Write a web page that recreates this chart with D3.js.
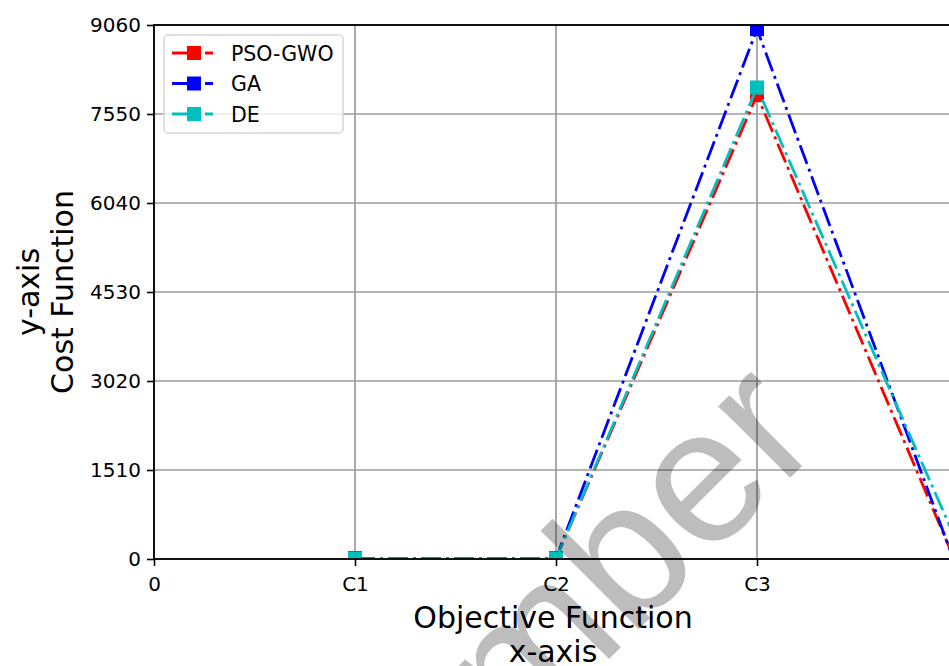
<!DOCTYPE html>
<html>
<head>
<meta charset="utf-8">
<script src="https://cdn.jsdelivr.net/npm/d3@7"></script>
<style>
  html, body { margin: 0; padding: 0; background: #fff; }
  svg { display: block; }
  text { font-family: "DejaVu Sans", sans-serif; }
</style>
</head>
<body>
<svg id="chart" width="949" height="666"></svg>
<script>
// ---- data ----
const xTickLabels = ["0", "C1", "C2", "C3"];
const categories = ["C1", "C2", "C3", "C4"];
const psoGwo = [10, 10, 7870, -150];
const ga = [12, 12, 8990, -210];
const de = [8, 8, 8000, 240];
const yTicks = [0, 1510, 3020, 4530, 6040, 7550, 9060];
const seriesNames = ["PSO-GWO", "GA", "DE"];
const seriesColors = ["#ff0000", "#0000ff", "#00bfbf"];
const seriesValues = [psoGwo, ga, de];

// ---- layout ----
const svg = d3.select("#chart");
const plot = { left: 154, top: 25, right: 958, bottom: 559 };

const x = d3.scaleLinear().domain([0, categories.length]).range([plot.left, plot.right]);
const y = d3.scaleLinear().domain([0, 9060]).range([plot.bottom, plot.top]);

svg.append("defs").append("clipPath").attr("id", "plotclip")
  .append("rect").attr("x", plot.left).attr("y", plot.top)
  .attr("width", plot.right - plot.left).attr("height", plot.bottom - plot.top);

// grid
const grid = svg.append("g");
grid.selectAll("line.gx").data(d3.range(categories.length + 1)).join("line")
  .attr("x1", d => x(d)).attr("x2", d => x(d))
  .attr("y1", plot.top).attr("y2", plot.bottom)
  .attr("stroke", "#9c9c9c").attr("stroke-width", 1.7);
grid.selectAll("line.gy").data(yTicks).join("line")
  .attr("x1", plot.left).attr("x2", plot.right)
  .attr("y1", d => y(d)).attr("y2", d => y(d))
  .attr("stroke", "#9c9c9c").attr("stroke-width", 1.7);

// series
const lineGen = d3.line().x((d, i) => x(i + 1)).y(d => y(d));
const marks = svg.append("g").attr("clip-path", "url(#plotclip)");
seriesValues.forEach((vals, si) => {
  marks.append("path").datum(vals)
    .attr("d", lineGen)
    .attr("fill", "none")
    .attr("stroke", seriesColors[si])
    .attr("stroke-width", 2.8)
    .attr("stroke-dasharray", "20,5,3,5")
    .attr("stroke-linejoin", "miter");
  marks.selectAll(null).data(vals).join("rect")
    .attr("x", (d, i) => x(i + 1) - 7)
    .attr("y", d => y(d) - 7)
    .attr("width", 14).attr("height", 14)
    .attr("fill", seriesColors[si]);
});

// axes
const xAxis = d3.axisBottom(x).tickValues(d3.range(xTickLabels.length))
  .tickFormat(i => xTickLabels[i]).tickSize(7).tickPadding(11);
const yAxis = d3.axisLeft(y).tickValues(yTicks).tickFormat(d3.format("d"))
  .tickSize(7).tickPadding(6);

const gx = svg.append("g").attr("transform", `translate(0,${plot.bottom})`).call(xAxis);
const gy = svg.append("g").attr("transform", `translate(${plot.left},0)`).call(yAxis);
[gx, gy].forEach(g => {
  g.select(".domain").remove();
  g.selectAll(".tick line").attr("stroke", "#000").attr("stroke-width", 1.6);
  g.selectAll(".tick text").attr("fill", "#000").style("font-size", "20px")
    .style("font-family", "DejaVu Sans");
});

// spines
svg.append("rect").attr("x", plot.left).attr("y", plot.top)
  .attr("width", plot.right - plot.left).attr("height", plot.bottom - plot.top)
  .attr("fill", "none").attr("stroke", "#000").attr("stroke-width", 1.8);

// axis labels
const cx = (plot.left + plot.right) / 2 - 3;
svg.append("text").attr("x", cx).attr("y", 628)
  .attr("text-anchor", "middle").style("font-size", "30px").text("Objective Function");
svg.append("text").attr("x", cx).attr("y", 662)
  .attr("text-anchor", "middle").style("font-size", "30px").text("x-axis");
const cy = (plot.top + plot.bottom) / 2;
svg.append("text").attr("transform", `translate(39,${cy}) rotate(-90)`)
  .attr("text-anchor", "middle").style("font-size", "30px").text("y-axis");
svg.append("text").attr("transform", `translate(73,${cy}) rotate(-90)`)
  .attr("text-anchor", "middle").style("font-size", "30px").text("Cost Function");

// legend
const lg = svg.append("g");
lg.append("rect").attr("x", 164).attr("y", 35).attr("width", 179).attr("height", 98)
  .attr("rx", 4).attr("fill", "#fff").attr("fill-opacity", 0.8)
  .attr("stroke", "#d6d6d6").attr("stroke-width", 1.5);
seriesNames.forEach((name, i) => {
  const yy = 53 + i * 30.5;
  lg.append("line").attr("x1", 172).attr("x2", 213).attr("y1", yy).attr("y2", yy)
    .attr("stroke", seriesColors[i]).attr("stroke-width", 2.8)
    .attr("stroke-dasharray", "20,5,3,5");
  lg.append("rect").attr("x", 194 - 7).attr("y", yy - 7).attr("width", 14).attr("height", 14)
    .attr("fill", seriesColors[i]);
  lg.append("text").attr("x", 231).attr("y", yy + 7.5).style("font-size", "20.5px").text(name);
});

// watermark
svg.append("text")
  .attr("transform", "translate(826,442) rotate(-45)")
  .attr("text-anchor", "end")
  .style("font-family", "Liberation Sans")
  .style("font-size", "192px")
  .attr("fill", "#000").attr("fill-opacity", 0.26)
  .text("member");
</script>
</body>
</html>
